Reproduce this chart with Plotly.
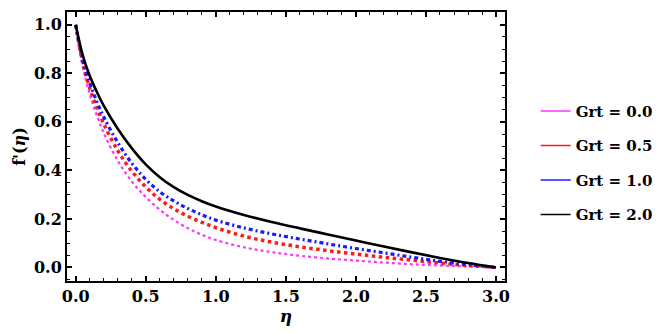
import plotly.graph_objects as go

eta = [0, 0.05, 0.1, 0.15, 0.2, 0.3, 0.4, 0.5, 0.6, 0.7, 0.8, 0.9, 1.0,
       1.2, 1.4, 1.6, 1.8, 2.0, 2.2, 2.4, 2.6, 2.8, 3.0]

grt_00 = [1.0, 0.83, 0.715, 0.628, 0.555, 0.44, 0.355, 0.29, 0.238, 0.196, 0.162, 0.135, 0.113,
          0.083, 0.063, 0.048, 0.037, 0.028, 0.02, 0.013, 0.008, 0.004, 0.0]
grt_05 = [1.0, 0.845, 0.74, 0.66, 0.592, 0.482, 0.397, 0.332, 0.281, 0.242, 0.211, 0.186, 0.164,
          0.129, 0.104, 0.085, 0.069, 0.055, 0.042, 0.03, 0.018, 0.008, 0.0]
grt_10 = [1.0, 0.855, 0.76, 0.685, 0.62, 0.515, 0.43, 0.363, 0.312, 0.274, 0.243, 0.217, 0.195,
          0.163, 0.138, 0.117, 0.097, 0.078, 0.06, 0.042, 0.025, 0.011, 0.0]
grt_20 = [1.0, 0.875, 0.79, 0.725, 0.667, 0.572, 0.492, 0.425, 0.372, 0.331, 0.299, 0.273, 0.251,
          0.216, 0.187, 0.161, 0.136, 0.111, 0.086, 0.062, 0.039, 0.018, 0.0]

labels = ["Grt = 0.0", "Grt = 0.5", "Grt = 1.0", "Grt = 2.0"]
series = [grt_00, grt_05, grt_10, grt_20]
colors = ["#ff33ff", "#ff1a1a", "#1a1aff", "#000000"]
dashes = ["dot", "dot", "4px,3px,2px,3px", "solid"]
widths = [2.2, 3.5, 3.2, 2.6]

FONT = "DejaVu Serif"

fig = go.Figure()
for y, c, d, w in zip(series, colors, dashes, widths):
    fig.add_trace(go.Scatter(x=eta, y=y, mode="lines", line=dict(color=c, dash=d, width=w, shape="spline", smoothing=1.0),
                             showlegend=False))
for i, (lab, c) in enumerate(zip(labels, colors)):
    fig.add_trace(go.Scatter(x=[None], y=[None], mode="lines", name="<b>" + lab + "</b>",
                             line=dict(color=c, width=1.5), legendgroup=str(i)))

axis_common = dict(showline=True, linecolor="black", linewidth=2, mirror="ticks",
                   ticks="inside", tickcolor="black", tickwidth=1.5, ticklen=5,
                   showgrid=False, zeroline=False,
                   tickfont=dict(family=FONT, size=16, color="black", weight="bold"))

fig.update_xaxes(range=[-0.062, 3.064], tickmode="array",
                 tickvals=[0, 0.5, 1.0, 1.5, 2.0, 2.5, 3.0],
                 ticktext=["0.0", "0.5", "1.0", "1.5", "2.0", "2.5", "3.0"],
                 minor=dict(ticks="inside", dtick=0.1, tick0=0, ticklen=3, tickcolor="black", tickwidth=1),
                 title=dict(text="<b><i>η</i></b>", font=dict(family=FONT, size=17, color="black"), standoff=4),
                 **axis_common)
fig.update_yaxes(range=[-0.056, 1.053], tickmode="array",
                 tickvals=[0, 0.2, 0.4, 0.6, 0.8, 1.0],
                 ticktext=["0.0", "0.2", "0.4", "0.6", "0.8", "1.0"],
                 minor=dict(ticks="inside", dtick=0.05, tick0=0, ticklen=3, tickcolor="black", tickwidth=1),
                 title=dict(text="<b>f'(<i>η</i>)</b>", font=dict(family=FONT, size=16, color="black"), standoff=4),
                 **axis_common)

fig.update_layout(
    width=669, height=333,
    margin=dict(l=59, r=172, t=2, b=60),
    paper_bgcolor="white", plot_bgcolor="white",
    legend=dict(x=1.07, y=0.44, xanchor="left", yanchor="middle",
                font=dict(family=FONT, size=15, color="black"),
                tracegroupgap=12, bgcolor="rgba(0,0,0,0)"),
)

fig.write_html("out.html")
